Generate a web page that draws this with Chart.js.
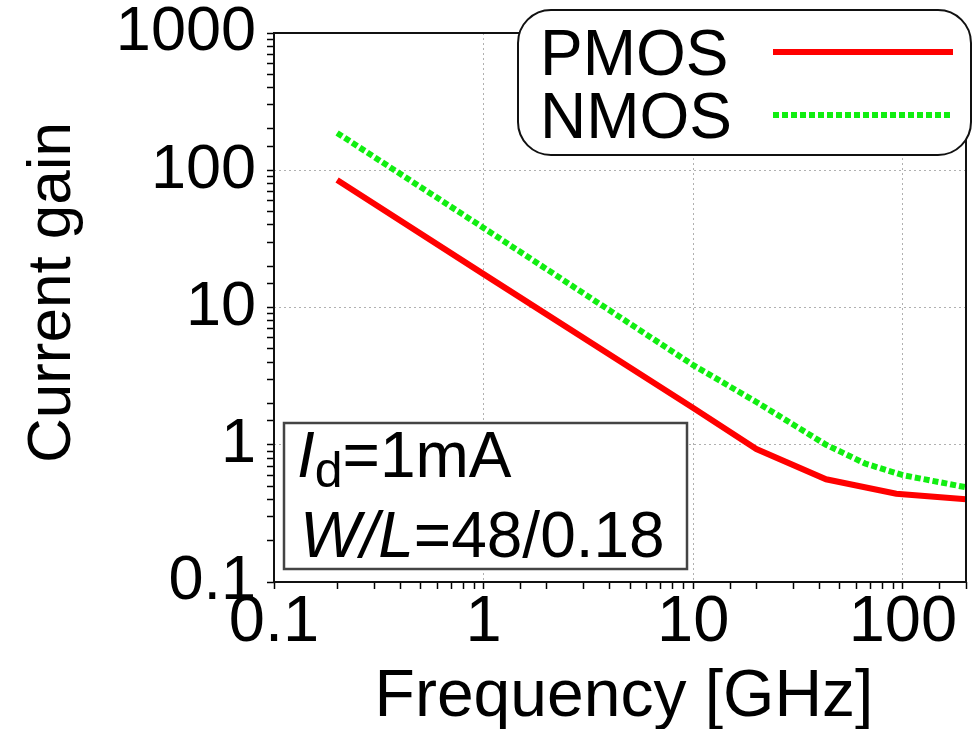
<!DOCTYPE html>
<html>
<head>
<meta charset="utf-8">
<script src="https://cdn.jsdelivr.net/npm/chart.js@4.4.0/dist/chart.umd.min.js"></script>
<style>
  html, body { margin: 0; padding: 0; background: #fff; }
</style>
</head>
<body>
<canvas id="chart" width="975" height="729"></canvas>
<script>
// --- Data ---
const freqPmos = [0.2, 1, 10, 20, 43, 93, 200];
const gainPmos = [85, 17.5, 1.85, 0.93, 0.56, 0.44, 0.40];
const freqNmos = [0.2, 1, 10, 20, 43, 66, 100, 200];
const gainNmos = [187, 38, 3.8, 2.05, 1.0, 0.73, 0.60, 0.49];
const seriesNames = ['PMOS', 'NMOS'];
const xTickLabels = ['0.1', '1', '10', '100'];
const yTickLabels = ['0.1', '1', '10', '100', '1000'];
const xTitle = 'Frequency [GHz]';
const yTitle = 'Current gain';

const FONT = '"Liberation Sans", Arial, sans-serif';

function toPoints(xs, ys) {
    return xs.map((x, i) => ({ x: x, y: ys[i] }));
}

function isDecade(v) {
    const l = Math.log10(v);
    return Math.abs(l - Math.round(l)) < 1e-6;
}

function decadeLabel(v, labels) {
    if (!isDecade(v)) return '';
    const txt = v >= 1 ? String(Math.round(v)) : v.toFixed(1);
    return labels.includes(txt) ? txt : '';
}

// frame, axis titles, legend and the Id / W/L note
const decorPlugin = {
    id: 'decor',
    afterDatasetsDraw(chart) {
        const { ctx, chartArea: a } = chart;
        ctx.save();
        ctx.strokeStyle = '#111';
        ctx.lineWidth = 2;
        ctx.strokeRect(a.left, a.top, a.right - a.left, a.bottom - a.top);
        ctx.restore();
    },
    afterDraw(chart) {
        const { ctx, chartArea: a } = chart;
        const sets = chart.data.datasets;

        // axis titles
        ctx.save();
        ctx.fillStyle = '#000';
        ctx.textAlign = 'center';
        ctx.textBaseline = 'alphabetic';
        ctx.font = '66px ' + FONT;
        ctx.fillText(xTitle, (a.left + a.right) / 2 + 4, 716);
        ctx.translate(70, (a.top + a.bottom) / 2 - 15);
        ctx.rotate(-Math.PI / 2);
        ctx.font = '62px ' + FONT;
        ctx.fillText(yTitle, 0, 0);
        ctx.restore();

        // legend box
        ctx.save();
        const lx = a.left + 244, ly = a.top - 23, lw = a.right + 5 - lx, lh = 145;
        ctx.fillStyle = '#fff';
        ctx.strokeStyle = '#111';
        ctx.lineWidth = 2;
        ctx.beginPath();
        ctx.roundRect(lx, ly, lw, lh, 33);
        ctx.fill();
        ctx.stroke();
        ctx.fillStyle = '#000';
        ctx.font = '64px ' + FONT;
        ctx.textBaseline = 'alphabetic';
        sets.forEach((ds, i) => {
            const base = ly + 65 + i * 63;
            ctx.fillText(ds.label, lx + 22, base);
            ctx.save();
            ctx.strokeStyle = ds.borderColor;
            ctx.lineWidth = ds.borderWidth;
            ctx.setLineDash(ds.borderDash || []);
            ctx.beginPath();
            ctx.moveTo(lx + 255, base - 23);
            ctx.lineTo(lx + 435, base - 23);
            ctx.stroke();
            ctx.restore();
        });
        ctx.restore();

        // note box
        ctx.save();
        const bx = a.left + 10, by = a.bottom - 159, bw = 403, bh = 146;
        ctx.fillStyle = '#fff';
        ctx.fillRect(bx, by, bw, bh);
        ctx.strokeStyle = '#444';
        ctx.lineWidth = 2.5;
        ctx.strokeRect(bx, by, bw, bh);
        ctx.fillStyle = '#000';
        let x = bx + 13, y = by + 54;
        ctx.font = 'italic 64px ' + FONT;
        ctx.fillText('I', x, y);
        x += ctx.measureText('I').width;
        ctx.font = '50px ' + FONT;
        ctx.fillText('d', x, y + 10);
        x += ctx.measureText('d').width;
        ctx.font = '64px ' + FONT;
        ctx.fillText('=1mA', x, y);
        x = bx + 16; y = by + 134;
        ctx.font = 'italic 64px ' + FONT;
        ctx.fillText('W/L', x, y);
        x += ctx.measureText('W/L').width;
        ctx.font = '64px ' + FONT;
        ctx.fillText('=48/0.18', x, y);
        ctx.restore();
    }
};

function axisOptions(min, max, labels, isX) {
    return {
        type: 'logarithmic',
        min: min,
        max: max,
        position: isX ? 'bottom' : 'left',
        afterFit: (s) => {
            if (isX) s.height = 147; else s.width = 274;
            s.paddingTop = 0;
            s.paddingBottom = 0;
            s.paddingLeft = 0;
            s.paddingRight = 0;
        },
        border: { display: false, dash: [2, 3] },
        grid: {
            color: (c) => (c.tick && isDecade(c.tick.value) ? '#b0b0b0' : 'rgba(0,0,0,0)'),
            lineWidth: 1,
            tickColor: '#000',
            tickLength: 7,
            tickWidth: 1.5
        },
        ticks: {
            autoSkip: false,
            maxRotation: 0,
            minRotation: 0,
            padding: isX ? 2 : 11,
            color: '#000',
            font: { family: FONT, size: isX ? 65 : 63, lineHeight: 1.0 },
            callback: (v) => decadeLabel(v, labels)
        },
        title: { display: false }
    };
}

new Chart(document.getElementById('chart'), {
    type: 'line',
    data: {
        datasets: [
            {
                label: seriesNames[0],
                data: toPoints(freqPmos, gainPmos),
                borderColor: '#ff0000',
                borderWidth: 6,
                pointRadius: 0,
                tension: 0,
                fill: false
            },
            {
                label: seriesNames[1],
                data: toPoints(freqNmos, gainNmos),
                borderColor: '#11ee11',
                borderWidth: 6,
                borderDash: [6, 3],
                pointRadius: 0,
                tension: 0,
                fill: false
            }
        ]
    },
    options: {
        responsive: false,
        animation: false,
        layout: { padding: { left: 0, top: 33, right: 9, bottom: 0 } },
        plugins: {
            legend: { display: false },
            tooltip: { enabled: false }
        },
        scales: {
            x: axisOptions(0.1, 200, xTickLabels, true),
            y: axisOptions(0.1, 1000, yTickLabels, false)
        }
    },
    plugins: [decorPlugin]
});
</script>
</body>
</html>
